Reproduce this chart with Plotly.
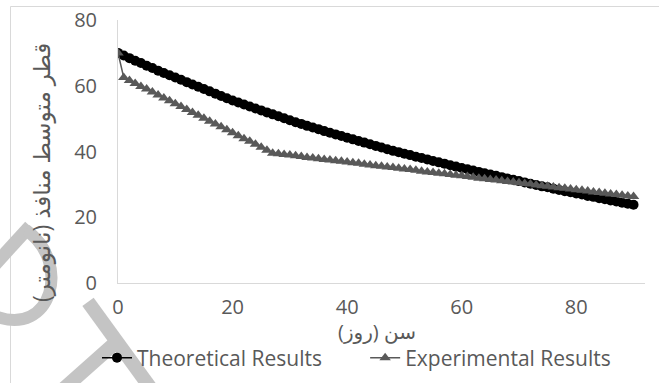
import plotly.graph_objects as go

days = list(range(0, 91))

theoretical = [
    70.0, 69.2, 68.4, 67.6, 66.9, 66.1, 65.4, 64.6, 63.9, 63.2,
    62.5, 61.8, 61.1, 60.4, 59.7, 59.0, 58.3, 57.6, 56.9, 56.2,
    55.5, 54.9, 54.3, 53.7, 53.1, 52.5, 51.9, 51.3, 50.7, 50.1,
    49.5, 48.9, 48.4, 47.8, 47.3, 46.8, 46.2, 45.7, 45.2, 44.7,
    44.2, 43.7, 43.2, 42.7, 42.2, 41.7, 41.2, 40.7, 40.2, 39.8,
    39.3, 38.9, 38.4, 38.0, 37.6, 37.1, 36.7, 36.3, 35.8, 35.4,
    35.0, 34.6, 34.2, 33.8, 33.4, 33.0, 32.6, 32.2, 31.8, 31.4,
    31.0, 30.6, 30.2, 29.8, 29.4, 29.1, 28.7, 28.3, 27.9, 27.6,
    27.2, 26.9, 26.5, 26.2, 25.8, 25.5, 25.1, 24.8, 24.4, 24.1,
    23.8,
]

experimental = [
    70.0, 62.5, 61.6, 60.7, 59.8, 59.0, 58.1, 57.2, 56.3, 55.4,
    54.5, 53.7, 52.8, 51.9, 51.0, 50.1, 49.2, 48.4, 47.5, 46.6,
    45.7, 44.8, 43.9, 43.1, 42.2, 41.3, 40.4, 39.5, 39.3, 39.1,
    38.9, 38.7, 38.5, 38.2, 38.0, 37.8, 37.6, 37.4, 37.2, 37.0,
    36.8, 36.6, 36.4, 36.1, 35.9, 35.7, 35.5, 35.3, 35.1, 34.9,
    34.7, 34.5, 34.3, 34.0, 33.8, 33.6, 33.4, 33.2, 33.0, 32.8,
    32.6, 32.4, 32.2, 31.9, 31.7, 31.5, 31.3, 31.1, 30.9, 30.7,
    30.5, 30.3, 30.1, 29.8, 29.6, 29.4, 29.2, 29.0, 28.8, 28.6,
    28.4, 28.2, 28.0, 27.7, 27.5, 27.3, 27.1, 26.9, 26.7, 26.5,
    26.3,
]

x_ticks = [0, 20, 40, 60, 80]
y_ticks = [0, 20, 40, 60, 80]

FONT = "Open Sans, DejaVu Sans, sans-serif"
GRAY = "#595959"
WM = "#c4c4c4"

# plot area in pixels (for decoration placement only)
L, R, T, B = 118, 645, 20, 283


def px(xp):
    return (xp - L) / (R - L)


def py(yp):
    return (B - yp) / (B - T)


def path(points):
    return "M " + " L ".join(f"{px(a):.4f},{py(b):.4f}" for a, b in points)


def cpath(p0, c1, c2, p1):
    return (f"M {px(p0[0]):.4f},{py(p0[1]):.4f} C {px(c1[0]):.4f},{py(c1[1]):.4f} "
            f"{px(c2[0]):.4f},{py(c2[1]):.4f} {px(p1[0]):.4f},{py(p1[1]):.4f}")


fig = go.Figure()
fig.add_trace(go.Scatter(
    x=days, y=theoretical, name="Theoretical Results" + "\u00a0" * 7,
    mode="lines+markers",
    line=dict(color="#000000", width=1.5),
    marker=dict(symbol="circle", size=10, color="#000000"),
))
fig.add_trace(go.Scatter(
    x=days, y=experimental, name="Experimental Results",
    mode="lines+markers",
    line=dict(color=GRAY, width=1.5),
    marker=dict(symbol="triangle-up", size=10, color=GRAY),
))

shapes = [
    dict(type="rect", xref="paper", yref="paper",
         x0=px(10.5), x1=1.3, y0=-0.6, y1=py(6.5),
         line=dict(color="#d9d9d9", width=1), layer="below"),
    # watermark fragments
    dict(type="path", xref="paper", yref="paper", layer="below",
         path=path([(-10, 270), (30, 226)]), line=dict(color=WM, width=13)),
    dict(type="path", xref="paper", yref="paper", layer="below",
         path=cpath((26, 230), (72, 262), (52, 338), (-5, 316)), line=dict(color=WM, width=12)),
    dict(type="path", xref="paper", yref="paper", layer="below",
         path=path([(88, 302), (152, 390)]), line=dict(color=WM, width=14)),
    dict(type="path", xref="paper", yref="paper", layer="below",
         path=path([(114, 344), (60, 392)]), line=dict(color=WM, width=14)),
]

fig.update_layout(
    width=659, height=383,
    margin=dict(l=L, r=659 - R, t=T, b=383 - B, autoexpand=False),
    paper_bgcolor="white", plot_bgcolor="rgba(0,0,0,0)",
    font=dict(family=FONT, size=20, color=GRAY),
    showlegend=True,
    legend=dict(orientation="h", xref="container", x=97 / 659, xanchor="left",
                yref="container", y=(383 - 358) / 383, yanchor="middle",
                font=dict(size=21, color=GRAY), tracegroupgap=0,
                bgcolor="rgba(0,0,0,0)"),
    xaxis=dict(range=[0, 92], tickvals=x_ticks, showgrid=False, zeroline=False,
               showline=True, linecolor="#d9d9d9", linewidth=1, automargin=False,
               ticks="", ticklabelstandoff=6),
    yaxis=dict(range=[0, 80], tickvals=y_ticks, showgrid=False, zeroline=False,
               showline=True, linecolor="#d9d9d9", linewidth=1, automargin=False,
               ticks="", ticklabelstandoff=16),
    annotations=[
        dict(text="سن (روز)", xref="paper", yref="paper", x=px(377), y=py(331),
             showarrow=False, xanchor="center", yanchor="middle",
             font=dict(size=20, color=GRAY)),
        dict(text="قطر متوسط منافذ (نانومتر)", xref="paper", yref="paper",
             x=px(41), y=py(173), textangle=-90, showarrow=False,
             xanchor="center", yanchor="middle", font=dict(size=23, color=GRAY)),
    ],
    shapes=shapes,
)

fig.write_html("out.html")
